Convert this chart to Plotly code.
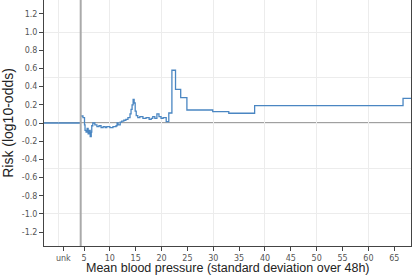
import plotly.graph_objects as go

# ---- data ----
bin_edges = [4.4, 4.8, 5.1, 5.2, 5.4, 5.6, 5.8, 6.0, 6.2, 6.4, 6.5, 6.7, 7.1, 7.5, 7.9, 8.3,
             8.7, 9.1, 9.4, 10.0, 10.6, 11.2, 11.4, 11.6, 12.0, 12.3, 12.7, 13.1, 13.5, 13.9,
             14.1, 14.3, 14.5, 14.7, 14.9, 15.1, 15.4, 15.8, 16.4, 17.0, 17.6, 18.0, 18.3,
             18.7, 19.1, 19.5, 19.9, 20.3, 20.9, 21.4, 22.0, 22.7, 23.7, 24.9, 29.9, 33.0,
             38.0, 66.7, 68.24]
bin_values = [0.077, 0.06, -0.02, -0.08, -0.10, -0.06, -0.12, -0.08, -0.15, -0.10, -0.03,
              0.0, -0.02, -0.04, -0.03, -0.05, -0.04, -0.05, -0.04, -0.05, -0.04, -0.03,
              0.0, -0.02, 0.01, 0.02, 0.03, 0.04, 0.06, 0.10, 0.15, 0.20, 0.26, 0.22, 0.13,
              0.08, 0.06, 0.07, 0.05, 0.06, 0.04, 0.05, 0.07, 0.05, 0.10, 0.07, 0.05, 0.06,
              0.015, 0.11, 0.58, 0.37, 0.28, 0.143, 0.125, 0.107, 0.19, 0.27]
unk_value = 0.0

x_tick_vals = [1, 5, 10, 15, 20, 25, 30, 35, 40, 45, 50, 55, 60, 65]
x_tick_text = ["unk", "5", "10", "15", "20", "25", "30", "35", "40", "45", "50", "55", "60", "65"]
y_tick_vals = [-1.2, -1.0, -0.8, -0.6, -0.4, -0.2, 0.0, 0.2, 0.4, 0.6, 0.8, 1.0, 1.2]
y_tick_text = ["-1.2", "-1.0", "-0.8", "-0.6", "-0.4", "-0.2", "0.0", "0.2", "0.4", "0.6",
               "0.8", "1.0", "1.2"]
x_title = "Mean blood pressure (standard deviation over 48h)"
y_title = "Risk (log10-odds)"

# ---- layout constants ----
x_range = [-2.735, 68.24]
y_range = [-1.352, 1.352]
sep_x = 4.36
line_color = "#4a86c2"
tick_font = dict(family="DejaVu Sans", size=8, color="#555555")
xtitle_font = dict(family="Liberation Sans, Arial", size=12.5, color="#222222")
ytitle_font = dict(family="Liberation Sans, Arial", size=14, color="#222222")

fig = go.Figure()

# invisible trace binding the grid-only overlay axes
fig.add_trace(go.Scatter(x=[None], y=[None], xaxis="x2", yaxis="y2", showlegend=False,
                         hoverinfo="skip"))
# unknown-bin segment
fig.add_trace(go.Scatter(x=[x_range[0], sep_x], y=[unk_value, unk_value], mode="lines",
                         line=dict(color=line_color, width=1.3), hoverinfo="skip",
                         showlegend=False))
# main step line
fig.add_trace(go.Scatter(x=bin_edges, y=bin_values + [bin_values[-1]], mode="lines",
                         line=dict(color=line_color, width=1.3, shape="hv"),
                         showlegend=False))

fig.add_shape(type="line", xref="x", yref="paper", x0=sep_x, x1=sep_x, y0=0, y1=1,
              line=dict(color="#aaaaaa", width=2), layer="above")
fig.add_shape(type="line", xref="paper", yref="y", x0=0, x1=1, y0=0, y1=0,
              line=dict(color="#808080", width=1.5), layer="below")

fig.add_annotation(text=x_title, xref="paper", yref="paper", x=0.5, y=-0.088,
                   xanchor="center", yanchor="middle", showarrow=False, font=xtitle_font)

fig.update_layout(
    width=412, height=276,
    margin=dict(l=44, r=1, t=0, b=30),
    paper_bgcolor="white", plot_bgcolor="white",
    showlegend=False,
    xaxis=dict(range=x_range, showgrid=False, zeroline=False, automargin=False,
               tickmode="array", tickvals=x_tick_vals, ticktext=x_tick_text,
               ticks="outside", ticklen=4, tickcolor="#444444", tickfont=tick_font,
               showline=True, linecolor="#444444", linewidth=1),
    yaxis=dict(range=y_range, showgrid=False, zeroline=False, automargin=False,
               tickmode="array", tickvals=y_tick_vals, ticktext=y_tick_text,
               ticks="outside", ticklen=4, tickcolor="#444444", tickfont=tick_font,
               showline=True, linecolor="#444444", linewidth=1, mirror=True,
               title=dict(text=y_title, font=ytitle_font, standoff=4)),
    xaxis2=dict(range=x_range, overlaying="x", side="bottom", showgrid=True,
                gridcolor="#ececec", gridwidth=1, tick0=0, dtick=10,
                showticklabels=False, ticks="", zeroline=False, showline=False,
                automargin=False),
    yaxis2=dict(range=y_range, overlaying="y", side="left", showgrid=True,
                gridcolor="#ececec", gridwidth=1, tick0=0, dtick=0.5,
                showticklabels=False, ticks="", zeroline=False, showline=False,
                automargin=False),
)

fig.write_html("out.html", config={"displayModeBar": False},
               post_script="document.body.style.margin='0';")
